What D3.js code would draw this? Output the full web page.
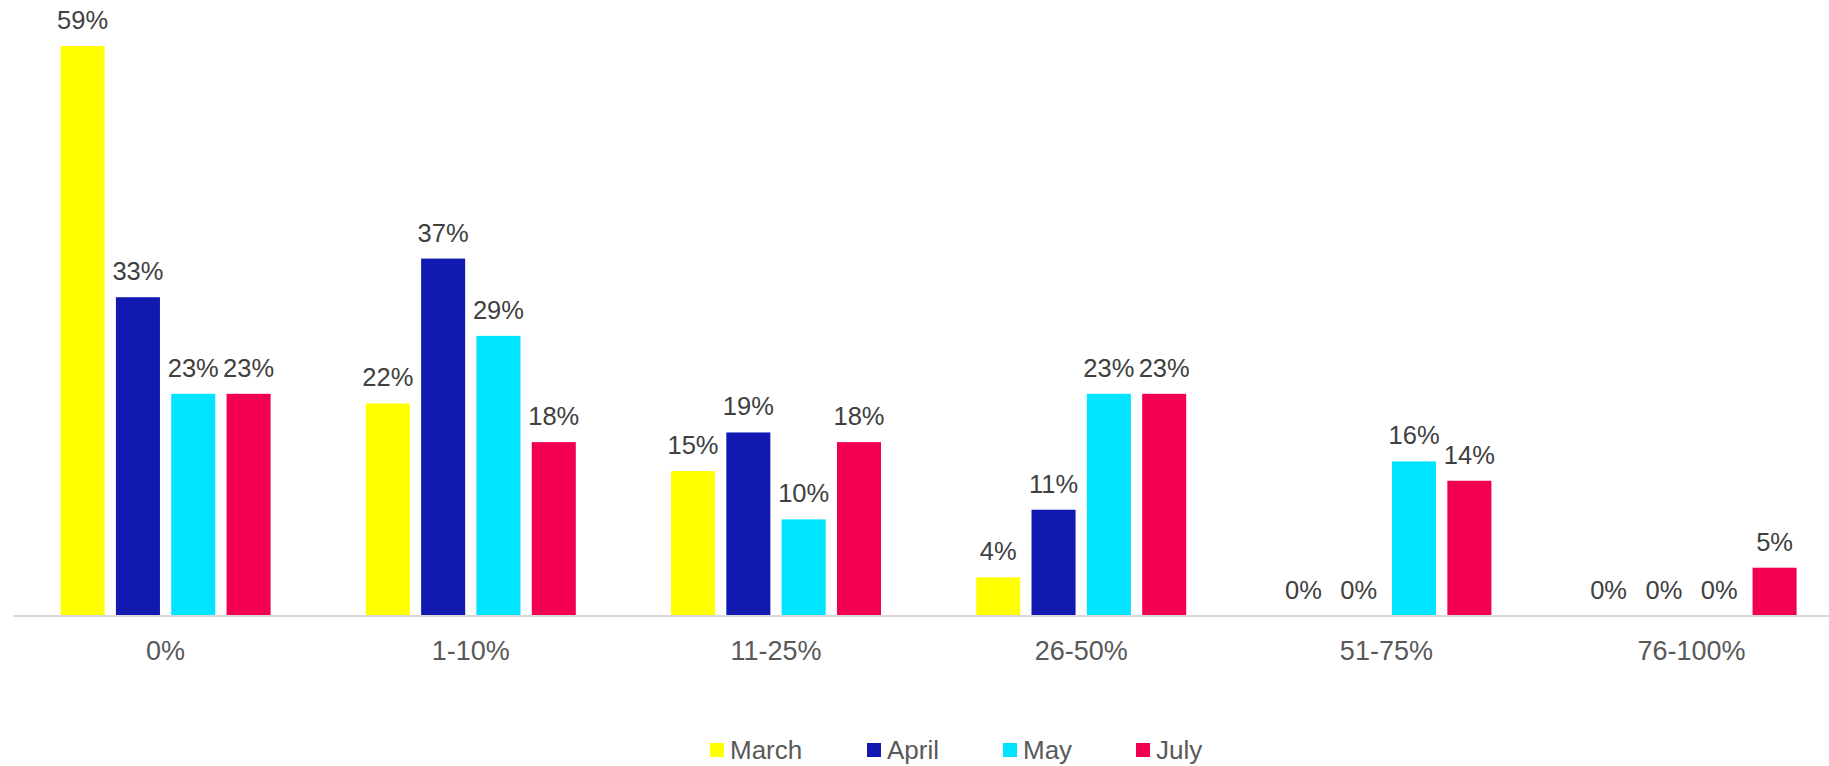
<!DOCTYPE html>
<html>
<head>
<meta charset="utf-8">
<script src="https://cdn.jsdelivr.net/npm/d3@7"></script>
<style>
  html, body { margin: 0; padding: 0; background: #fff; }
  body { font-family: "Liberation Sans", Arial, sans-serif; }
  .cat-axis .domain { stroke: #d9d9d9; stroke-width: 2; }
  .cat-axis text { font-size: 27px; fill: #595959; font-family: "Liberation Sans", Arial, sans-serif; }
  .value-label { font-size: 25.5px; fill: #404040; text-anchor: middle; }
  .legend-label { font-size: 26px; fill: #595959; }
</style>
</head>
<body>
<div id="chart"></div>
<script>
const categories = ["0%", "1-10%", "11-25%", "26-50%", "51-75%", "76-100%"];
const seriesNames = ["March", "April", "May", "July"];
const seriesColors = ["#FFFF00", "#1219B0", "#00E4FF", "#F2004F"];

const march = [59, 22, 15, 4, 0, 0];
const april = [33, 37, 19, 11, 0, 0];
const may = [23, 29, 10, 23, 16, 0];
const july = [23, 18, 18, 23, 14, 5];

const seriesValues = [march, april, may, july];

function drawChart() {
    const width = 1829;
    const height = 766;

    const svg = d3.select("#chart")
        .append("svg")
        .attr("width", width)
        .attr("height", height);

    const step = 305.2;
    const left = 13;
    const baseline = 616;

    // outer scale for categories
    const x0 = d3.scaleBand()
        .domain(categories)
        .range([left, left + step * categories.length])
        .padding(0);

    // inner scale for months within a category
    const groupWidth = 210;
    const x1 = d3.scaleBand()
        .domain(seriesNames)
        .range([0, groupWidth])
        .paddingInner(0.204)
        .paddingOuter(0);

    const y = d3.scaleLinear()
        .domain([0, 60])
        .range([baseline, 36.4]);

    const groupOffset = (x0.bandwidth() - groupWidth) / 2;

    const rows = [];
    categories.forEach((cat, i) => {
        seriesNames.forEach((name, j) => {
            rows.push({ cat, name, value: seriesValues[j][i], color: seriesColors[j] });
        });
    });

    const bars = svg.append("g");
    bars.selectAll("rect")
        .data(rows.filter(d => d.value > 0))
        .enter().append("rect")
        .attr("x", d => x0(d.cat) + groupOffset + x1(d.name))
        .attr("y", d => y(d.value))
        .attr("width", x1.bandwidth())
        .attr("height", d => y(0) - y(d.value))
        .attr("fill", d => d.color);

    // axis along the bottom, no ticks
    const axis = svg.append("g")
        .attr("class", "cat-axis")
        .attr("transform", `translate(0,${baseline})`)
        .call(d3.axisBottom(x0).tickSize(0).tickPadding(25));
    axis.select(".domain").attr("d", `M${left},0H${width}`);

    // value labels above bars
    svg.append("g")
        .selectAll("text")
        .data(rows)
        .enter().append("text")
        .attr("class", "value-label")
        .attr("x", d => x0(d.cat) + groupOffset + x1(d.name) + x1.bandwidth() / 2)
        .attr("y", d => y(d.value) - 17)
        .text(d => d.value + "%");

    // legend
    const legendX = [710, 867, 1003, 1136];
    const legend = svg.append("g")
        .selectAll("g")
        .data(seriesNames)
        .enter().append("g")
        .attr("transform", (d, i) => `translate(${legendX[i]},743)`);

    legend.append("rect")
        .attr("width", 14)
        .attr("height", 14)
        .attr("fill", (d, i) => seriesColors[i]);

    legend.append("text")
        .attr("class", "legend-label")
        .attr("x", 20)
        .attr("y", 16)
        .text(d => d);

    return svg.node();
}

drawChart();
</script>
</body>
</html>
